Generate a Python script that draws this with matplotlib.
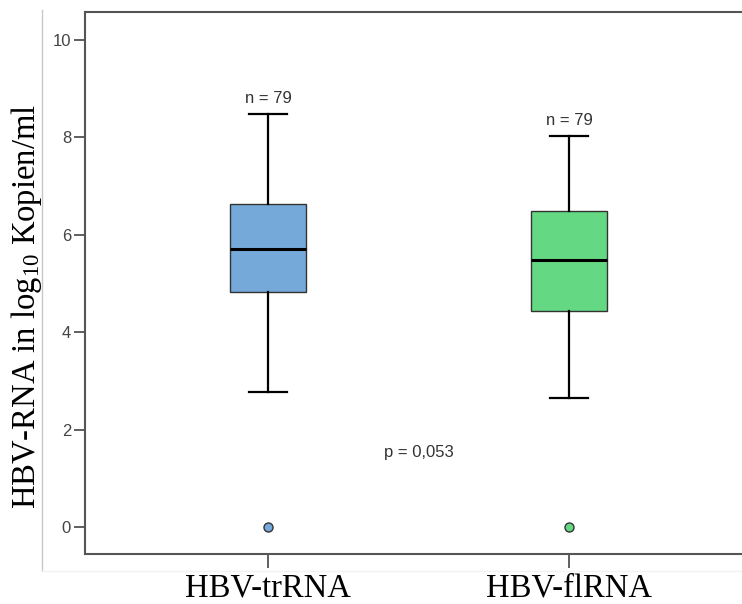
import matplotlib
matplotlib.use("Agg")
import matplotlib.pyplot as plt
from matplotlib.lines import Line2D

plt.rcParams["mathtext.fontset"] = "custom"
plt.rcParams["mathtext.rm"] = "Liberation Serif"
plt.rcParams["mathtext.it"] = "Liberation Serif:italic"

categories = ["HBV-trRNA", "HBV-flRNA"]
q1 = [4.83, 4.44]
median = [5.71, 5.48]
q3 = [6.63, 6.49]
whisker_low = [2.77, 2.65]
whisker_high = [8.48, 8.03]
outliers = [[0.0], [0.0]]
n_labels = ["n = 79", "n = 79"]
p_label = "p = 0,053"
p_y = 1.52
box_colors = ["#75a9da", "#64d882"]
yticks = [0, 2, 4, 6, 8, 10]

fig = plt.figure(figsize=(7.42, 6.04), dpi=100)
W, H = 742, 604
ax = fig.add_axes([85 / W, (604 - 554) / H, (752 - 85) / W, (554 - 12) / H])

stats = []
for i in range(len(categories)):
    stats.append(dict(med=median[i], q1=q1[i], q3=q3[i],
                      whislo=whisker_low[i], whishi=whisker_high[i],
                      fliers=outliers[i], label=categories[i]))

positions = [1, 2]
bp = ax.bxp(stats, positions=positions, widths=0.25, patch_artist=True,
            showfliers=True,
            boxprops=dict(edgecolor="#333333", linewidth=1.0),
            medianprops=dict(color="black", linewidth=2.2),
            whiskerprops=dict(color="black", linewidth=1.6),
            capprops=dict(color="black", linewidth=1.6),
            capwidths=0.125,
            flierprops=dict(marker="o", markersize=6.5, markeredgecolor="#333333",
                            markeredgewidth=1.0))
for patch, c in zip(bp["boxes"], box_colors):
    patch.set_facecolor(c)
for fl, c in zip(bp["fliers"], box_colors):
    fl.set_markerfacecolor(c)

for x, wh, lab in zip(positions, whisker_high, n_labels):
    ax.annotate(lab, (x, wh), xytext=(0, 6), textcoords="offset points",
                ha="center", va="bottom", fontsize=12, color="#333333",
                family="Liberation Sans")

ax.text(sum(positions) / 2, p_y, p_label, ha="center", va="center",
        fontsize=12, color="#333333", family="Liberation Sans")

ax.set_xlim(0.392, 2.608)
ax.set_ylim(-0.554, 10.575)
ax.set_yticks(yticks)
ax.set_yticklabels([str(v) for v in yticks], family="Liberation Sans",
                   fontsize=12, color="#444444")
ax.set_xticks(positions)
ax.set_xticklabels(categories, family="Liberation Serif", fontsize=23.5, color="black")
ax.tick_params(axis="y", length=8, width=1.2, color="#444444", pad=2)
ax.tick_params(axis="x", length=10, width=1.2, color="#444444", pad=4)

for s in ["left", "top", "bottom"]:
    ax.spines[s].set_color("#555555")
    ax.spines[s].set_linewidth(1.5)
ax.spines["right"].set_visible(False)

ax.set_ylabel(r"HBV-RNA in log$_{\mathrm{10}}$ Kopien/ml", family="Liberation Serif",
              fontsize=23.5)
ax.yaxis.set_label_coords((44 - 85) / 667, (554 - 306) / 542)

fig.add_artist(Line2D([42 / W, 42 / W], [1 - 10 / H, 1 - 571 / H],
                      transform=fig.transFigure, color="#c8c8c8", linewidth=1.0))
fig.add_artist(Line2D([42 / W, 1], [1 - 571 / H, 1 - 571 / H],
                      transform=fig.transFigure, color="#f2f2f2", linewidth=1.0))

fig.savefig("out.png", dpi=100)
